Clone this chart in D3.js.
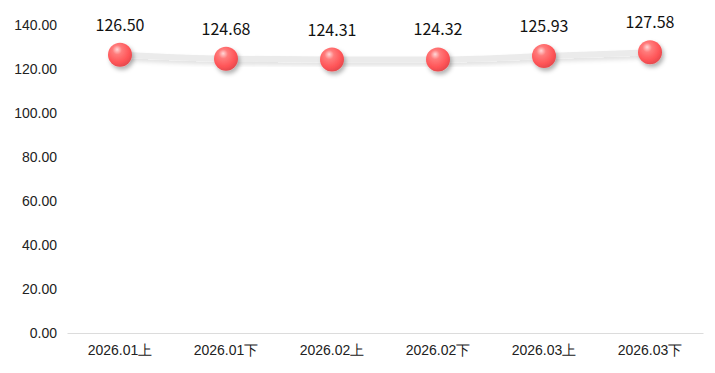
<!DOCTYPE html>
<html lang="zh">
<head>
<meta charset="UTF-8">
<title>Line chart</title>
<script src="https://d3js.org/d3.v7.min.js"></script>
<style>
  body { margin: 0; background: #fff; font-family: "Noto Sans CJK SC", "Noto Sans", sans-serif; }
  .tick-label { font-size: 14px; fill: #222; }
  .value-label { font-size: 16px; fill: #111; text-anchor: middle; }
</style>
</head>
<body>
<div id="chart"></div>
<script>
// data
const categories = ["2026.01上", "2026.01下", "2026.02上", "2026.02下", "2026.03上", "2026.03下"];
const values = [126.50, 124.68, 124.31, 124.32, 125.93, 127.58];
const yTicks = [0, 20, 40, 60, 80, 100, 120, 140];

const W = 715, H = 373;
const margin = { top: 25, right: 12, bottom: 40, left: 67 };

const svg = d3.select("#chart").append("svg")
  .attr("width", W).attr("height", H);

const defs = svg.append("defs");

// sphere gradient
const grad = defs.append("radialGradient")
  .attr("id", "ball")
  .attr("cx", "40%").attr("cy", "35%").attr("r", "65%")
  .attr("fx", "38%").attr("fy", "28%");
grad.append("stop").attr("offset", "0%").attr("stop-color", "#ffd8d8");
grad.append("stop").attr("offset", "30%").attr("stop-color", "#ff7b7b");
grad.append("stop").attr("offset", "75%").attr("stop-color", "#ff5558");
grad.append("stop").attr("offset", "100%").attr("stop-color", "#e84a4e");

const shadow = defs.append("filter").attr("id", "shadow")
  .attr("x", "-50%").attr("y", "-50%").attr("width", "200%").attr("height", "200%");
shadow.append("feDropShadow")
  .attr("dx", 2).attr("dy", 3).attr("stdDeviation", 2)
  .attr("flood-color", "#000").attr("flood-opacity", 0.3);

const lineShadow = defs.append("filter").attr("id", "lshadow")
  .attr("x", "-10%").attr("y", "-100%").attr("width", "120%").attr("height", "300%");
lineShadow.append("feDropShadow")
  .attr("dx", 1).attr("dy", 3).attr("stdDeviation", 2)
  .attr("flood-color", "#000").attr("flood-opacity", 0.12);

const x = d3.scaleBand()
  .domain(categories)
  .range([margin.left, W - margin.right]);

const y = d3.scaleLinear()
  .domain([0, 140])
  .range([H - margin.bottom, margin.top]);

// y axis (labels only)
const yAxis = svg.append("g")
  .attr("transform", `translate(${margin.left},0)`)
  .call(d3.axisLeft(y).tickValues(yTicks).tickFormat(d3.format(".2f")).tickSize(0).tickPadding(10));
yAxis.select(".domain").remove();
yAxis.selectAll("text").attr("class", "tick-label").attr("fill", null);

// x axis
const xAxis = svg.append("g")
  .attr("transform", `translate(0,${y(0)})`)
  .call(d3.axisBottom(x).tickSize(0).tickPadding(12));
xAxis.select(".domain").attr("stroke", "#dcdcdc").attr("stroke-width", 1);
xAxis.selectAll("text").attr("class", "tick-label").attr("fill", null);

const cx = d => x(d) + x.bandwidth() / 2;
const pts = categories.map((c, i) => ({ c, v: values[i] }));

// line
svg.append("path")
  .datum(pts)
  .attr("fill", "none")
  .attr("stroke", "#ebebeb")
  .attr("stroke-width", 6)
  .attr("filter", "url(#lshadow)")
  .attr("d", d3.line().x(d => cx(d.c)).y(d => y(d.v)).curve(d3.curveMonotoneX));

// markers
svg.selectAll(".ball")
  .data(pts)
  .enter().append("circle")
  .attr("class", "ball")
  .attr("cx", d => cx(d.c))
  .attr("cy", d => y(d.v))
  .attr("r", 12)
  .attr("fill", "url(#ball)")
  .attr("filter", "url(#shadow)");

// value labels
svg.selectAll(".value-label")
  .data(pts)
  .enter().append("text")
  .attr("class", "value-label")
  .attr("x", d => cx(d.c))
  .attr("y", d => y(d.v) - 24)
  .text(d => d.v.toFixed(2));
</script>
</body>
</html>
